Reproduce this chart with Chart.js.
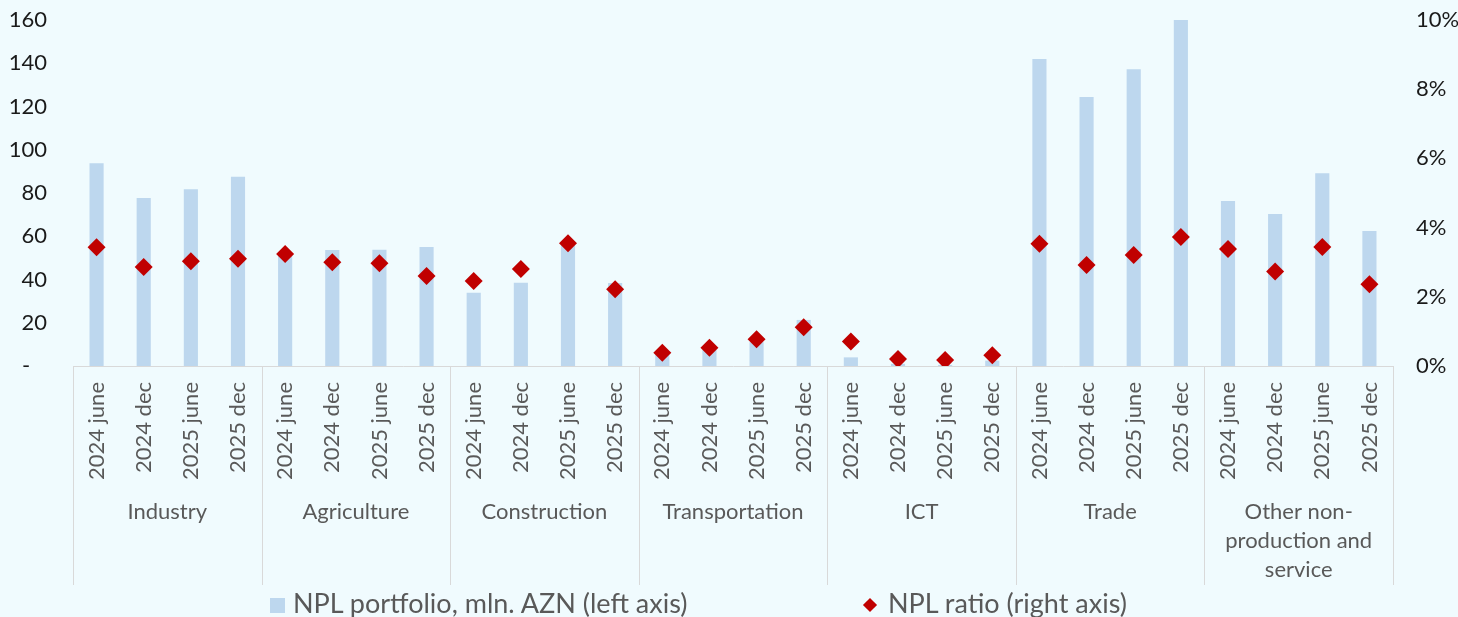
<!DOCTYPE html>
<html>
<head>
<meta charset="utf-8">
<title>NPL portfolio and NPL ratio by sector</title>
<script src="https://cdn.jsdelivr.net/npm/chart.js@4.4.1/dist/chart.umd.min.js"></script>
<style>
  html, body { margin: 0; padding: 0; background: #f0fbfe; }
  #wrap { position: relative; width: 1458px; height: 617px; overflow: hidden; background: #f0fbfe; }
  #chart { position: absolute; left: 0; top: 0; }
  .legend-item { position: absolute; top: 587px; height: 32px; line-height: 32px;
                 font-family: Lato, sans-serif; font-size: 27px; color: #595959; white-space: nowrap; }
  .swatch-bar { position: absolute; width: 15px; height: 15px; background: #bdd7ee; }
  .swatch-diamond { position: absolute; width: 10px; height: 10px; background: #c00000; transform: rotate(45deg); }
</style>
</head>
<body>
<div id="wrap">
  <canvas id="chart" width="1458" height="617"></canvas>
  <div class="swatch-bar" style="left:270px; top:598px;"></div>
  <div class="legend-item" style="left:293px;">NPL portfolio, mln. AZN (left axis)</div>
  <div class="swatch-diamond" style="left:865px; top:600px;"></div>
  <div class="legend-item" style="left:888px;">NPL ratio (right axis)</div>
</div>
<script>
// Sectors (outer axis level) and reporting periods (inner axis level)
const sectors = [
  'Industry',
  'Agriculture',
  'Construction',
  'Transportation',
  'ICT',
  'Trade',
  ['Other non-', 'production and', 'service']
];
const periods = ['2024 june', '2024 dec', '2025 june', '2025 dec'];

// NPL portfolio, mln. AZN (left axis), four periods per sector
const nplPortfolio = [
  93.7, 77.7, 81.7, 87.5,     // Industry
  52.0, 53.6, 53.7, 55.0,     // Agriculture
  33.9, 38.5, 56.5, 38.4,     // Construction
  5.5, 7.4, 11.0, 21.3,       // Transportation
  4.0, 1.0, 0.5, 2.5,         // ICT
  142.0, 124.4, 137.2, 160.0, // Trade
  76.3, 70.3, 89.1, 62.4      // Other non-production and service
];

// NPL ratio, % (right axis)
const nplRatio = [
  3.43, 2.86, 3.03, 3.10,
  3.24, 3.00, 2.97, 2.60,
  2.46, 2.80, 3.55, 2.22,
  0.38, 0.53, 0.77, 1.12,
  0.71, 0.20, 0.17, 0.31,
  3.53, 2.92, 3.21, 3.73,
  3.38, 2.73, 3.44, 2.36
];

// Axis ranges
const leftAxis = { min: 0, max: 160, step: 20 };
const rightAxis = { min: 0, max: 10, step: 2 };

const labels = sectors.flatMap(() => periods);

const FONT = 'Lato, sans-serif';
const GRAY = '#595959';
const LINE = '#d9d9d9';

// Draws the sector separators and sector names below the period labels
const sectorAxis = {
  id: 'sectorAxis',
  afterDraw(chart) {
    const x = chart.scales.x;
    const ctx = chart.ctx;
    const n = periods.length;
    const step = x.getPixelForValue(1) - x.getPixelForValue(0);
    const bottom = x.top + 219;
    ctx.save();
    ctx.strokeStyle = LINE;
    ctx.lineWidth = 1;
    for (let i = 0; i <= sectors.length; i++) {
      const px = Math.round(x.getPixelForValue(i * n) - step / 2) + 0.5;
      ctx.beginPath();
      ctx.moveTo(px, x.top);
      ctx.lineTo(px, bottom);
      ctx.stroke();
    }
    ctx.fillStyle = GRAY;
    ctx.font = '22px ' + FONT;
    ctx.textAlign = 'center';
    ctx.textBaseline = 'middle';
    sectors.forEach((s, i) => {
      const cx = (x.getPixelForValue(i * n) + x.getPixelForValue(i * n + n - 1)) / 2;
      const lines = Array.isArray(s) ? s : [s];
      lines.forEach((ln, j) => ctx.fillText(ln, cx, x.top + 146 + j * 29));
    });
    ctx.restore();
  }
};

// Value axes keep a fixed width and add no extra room above the plot
function fixValueAxis(width) {
  return s => { s.width = width; s.paddingTop = 0; s.paddingBottom = 0; };
}

new Chart(document.getElementById('chart'), {
  type: 'bar',
  data: {
    labels: labels,
    datasets: [
      {
        label: 'NPL portfolio, mln. AZN (left axis)',
        data: nplPortfolio,
        yAxisID: 'y',
        backgroundColor: '#bdd7ee',
        barPercentage: 0.3,
        categoryPercentage: 1.0,
        order: 2
      },
      {
        type: 'line',
        label: 'NPL ratio (right axis)',
        data: nplRatio,
        yAxisID: 'y1',
        showLine: false,
        pointStyle: 'rectRot',
        pointRadius: 9,
        pointHoverRadius: 9,
        pointBackgroundColor: '#c00000',
        pointBorderColor: '#c00000',
        pointBorderWidth: 0,
        order: 1
      }
    ]
  },
  options: {
    responsive: false,
    animation: false,
    events: [],
    layout: { padding: { top: 20, left: 0, right: 0, bottom: 0 } },
    plugins: {
      legend: { display: false },
      tooltip: { enabled: false }
    },
    scales: {
      x: {
        type: 'category',
        offset: true,
        grid: { display: false, drawTicks: false },
        border: { display: true, color: LINE, width: 1 },
        ticks: {
          autoSkip: false,
          maxRotation: 90,
          minRotation: 90,
          padding: 16,
          color: GRAY,
          font: { family: FONT, size: 22 }
        },
        afterFit(s) { s.height = 251; }
      },
      y: {
        position: 'left',
        min: leftAxis.min,
        max: leftAxis.max,
        grid: { display: false, drawTicks: false },
        border: { display: false },
        ticks: {
          stepSize: leftAxis.step,
          padding: 26,
          color: '#1a1a1a',
          font: { family: FONT, size: 22 },
          callback: v => (v === 0 ? '-   ' : String(v))
        },
        afterFit: fixValueAxis(73)
      },
      y1: {
        position: 'right',
        min: rightAxis.min,
        max: rightAxis.max,
        grid: { display: false, drawTicks: false },
        border: { display: false },
        ticks: {
          stepSize: rightAxis.step,
          padding: 23,
          color: '#1a1a1a',
          font: { family: FONT, size: 22 },
          callback: v => v + '%'
        },
        afterFit: fixValueAxis(65)
      }
    }
  },
  plugins: [sectorAxis]
});
</script>
</body>
</html>
